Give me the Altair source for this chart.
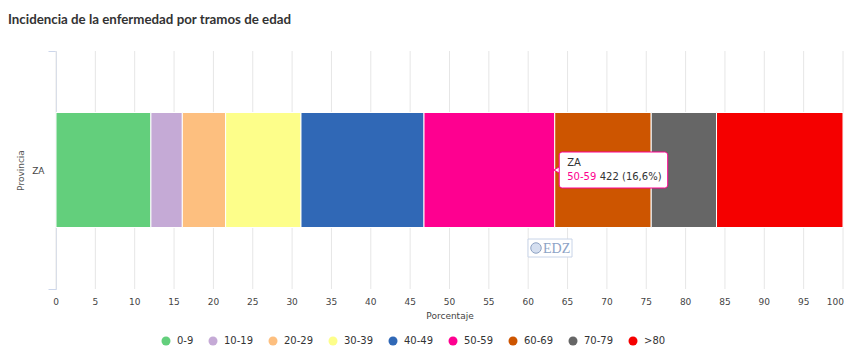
import altair as alt
import pandas as pd

# ---- data ----
titulo = "Incidencia de la enfermedad por tramos de edad"
provincias = ["ZA"]
grupos = ["0-9", "10-19", "20-29", "30-39", "40-49", "50-59", "60-69", "70-79", ">80"]
porcentajes = [12.06, 3.99, 5.50, 9.58, 15.63, 16.61, 12.26, 8.30, 16.07]
colores = ["#63cf7c", "#c5aad6", "#fdbf7f", "#fdfe8a", "#3068b6",
           "#fe0090", "#cd5500", "#666666", "#f50000"]
x_ticks = list(range(0, 101, 5))
tooltip_grupo = "50-59"
tooltip_valor = "422 (16,6%)"
marca_agua = "EDZ"

FONT = "DejaVu Sans"

df = pd.DataFrame({
    "provincia": provincias[0],
    "grupo": grupos,
    "pct": porcentajes,
    "orden": list(range(len(grupos))),
})

idx = grupos.index(tooltip_grupo)
tt = pd.DataFrame({
    "pct": [sum(porcentajes[: idx + 1])],
    "provincia": [provincias[0]],
    "grupo": [tooltip_grupo],
    "valor": [tooltip_valor],
})
ticks_df = pd.DataFrame({"pct": x_ticks})
one = pd.DataFrame({"t": [titulo], "w": [marca_agua]})
x_max = max(x_ticks)

xscale = alt.Scale(domain=[0, 100], nice=False, zero=True)
xaxis = alt.Axis(title="Porcentaje", grid=False, domain=False, ticks=False,
                 labels=False, titleFont=FONT, titleFontSize=9,
                 titleFontWeight="normal", titleColor="#444444", titlePadding=22)


def X(**kw):
    return alt.X("pct:Q", scale=xscale, axis=xaxis, **kw)


# grid lines and tick labels at every 5 %
grid = alt.Chart(ticks_df).mark_rule(color="#e6e6e6", strokeWidth=1).encode(
    x=X(), y=alt.value(0), y2=alt.value(238))
tick_labels = alt.Chart(ticks_df).transform_filter(
    alt.datum.pct < x_max
).mark_text(baseline="middle", align="center", font=FONT, fontSize=9,
            color="#444444").encode(
    x=X(), y=alt.value(251), text=alt.Text("pct:Q", format="d"))
tick_label_last = alt.Chart(ticks_df).transform_filter(
    alt.datum.pct == x_max
).mark_text(baseline="middle", align="right", dx=1, font=FONT, fontSize=9,
            color="#444444").encode(
    x=X(), y=alt.value(251), text=alt.Text("pct:Q", format="d"))

bars = alt.Chart(df).mark_bar(stroke="white", strokeWidth=1).encode(
    x=X(stack="zero"),
    y=alt.Y("provincia:N", scale=alt.Scale(paddingInner=0, paddingOuter=0),
            axis=alt.Axis(title="Provincia", tickBand="extent", tickSize=8,
                          tickColor="#ccd6eb", domainColor="#ccd6eb", grid=False,
                          labelFont=FONT, labelFontSize=9, labelColor="#444444",
                          labelPadding=4, titleFont=FONT, titleFontSize=9,
                          titleFontWeight="normal", titleColor="#555555",
                          titlePadding=6)),
    color=alt.Color("grupo:N", scale=alt.Scale(domain=grupos, range=colores),
                    legend=alt.Legend(orient="none", legendX=105, legendY=285,
                                      direction="horizontal", title=None,
                                      symbolType="circle", symbolSize=81,
                                      symbolStrokeWidth=0, labelFont=FONT,
                                      labelFontSize=10, labelColor="#333333",
                                      columnPadding=14, labelOffset=6, padding=0)),
    order=alt.Order("orden:Q"),
    size=alt.value(115),
)

# tooltip box anchored at the end of the hovered segment
tt_pointer = alt.Chart(tt).mark_point(shape="triangle-left", filled=True, fill="white",
                                      stroke="#fe0090", strokeWidth=1, size=40,
                                      xOffset=2, opacity=1).encode(
    x=X(), y=alt.value(119))
tt_box = alt.Chart(tt).mark_rect(fill="white", stroke="#fe0090", strokeWidth=1,
                                 cornerRadius=3, xOffset=4.5, x2Offset=113).encode(
    x=X(), x2=alt.X2("pct"), y=alt.value(101), y2=alt.value(137))
tt_line1 = alt.Chart(tt).mark_text(align="left", baseline="middle", dx=12.5,
                                   font=FONT, fontSize=10, color="#333333").encode(
    x=X(), y=alt.value(112), text="provincia:N")
tt_line2a = alt.Chart(tt).mark_text(align="left", baseline="middle", dx=12.5,
                                    font=FONT, fontSize=10, color="#fe0090").encode(
    x=X(), y=alt.value(126), text="grupo:N")
tt_line2b = alt.Chart(tt).mark_text(align="left", baseline="middle", dx=45,
                                    font=FONT, fontSize=10, color="#333333").encode(
    x=X(), y=alt.value(126), text="valor:N")

# watermark
wm_box = alt.Chart(one).mark_rect(fill="white", stroke="#c8d4e8", strokeWidth=1).encode(
    x=alt.value(472), x2=alt.value(516), y=alt.value(188), y2=alt.value(206))
wm_dot = alt.Chart(one).mark_point(shape="circle", filled=True, fill="#d5dff0",
                                   stroke="#8fa3c4", strokeWidth=1, size=110,
                                   opacity=1).encode(
    x=alt.value(480), y=alt.value(197))
wm_text = alt.Chart(one).mark_text(align="left", baseline="middle",
                                   font="Liberation Serif", fontSize=14,
                                   color="#8da3c6").encode(
    x=alt.value(487), y=alt.value(197.5), text="w:N")

title = alt.Chart(one).mark_text(align="left", baseline="alphabetic",
                                 font="Lato", fontSize=13.3, fontWeight="bold",
                                 color="#333333").encode(
    x=alt.value(-48), y=alt.value(-27), text="t:N")

chart = alt.layer(
    grid, tick_labels, tick_label_last, bars, wm_box, wm_dot, wm_text,
    tt_pointer, tt_box, tt_line1, tt_line2a, tt_line2b, title
).properties(
    width=787, height=238, autosize="none",
    padding={"left": 48, "top": 43, "right": 3, "bottom": 58},
    background="white",
).configure_view(stroke=None)

chart.save("out.html", embed_options={"renderer": "svg", "actions": False})
